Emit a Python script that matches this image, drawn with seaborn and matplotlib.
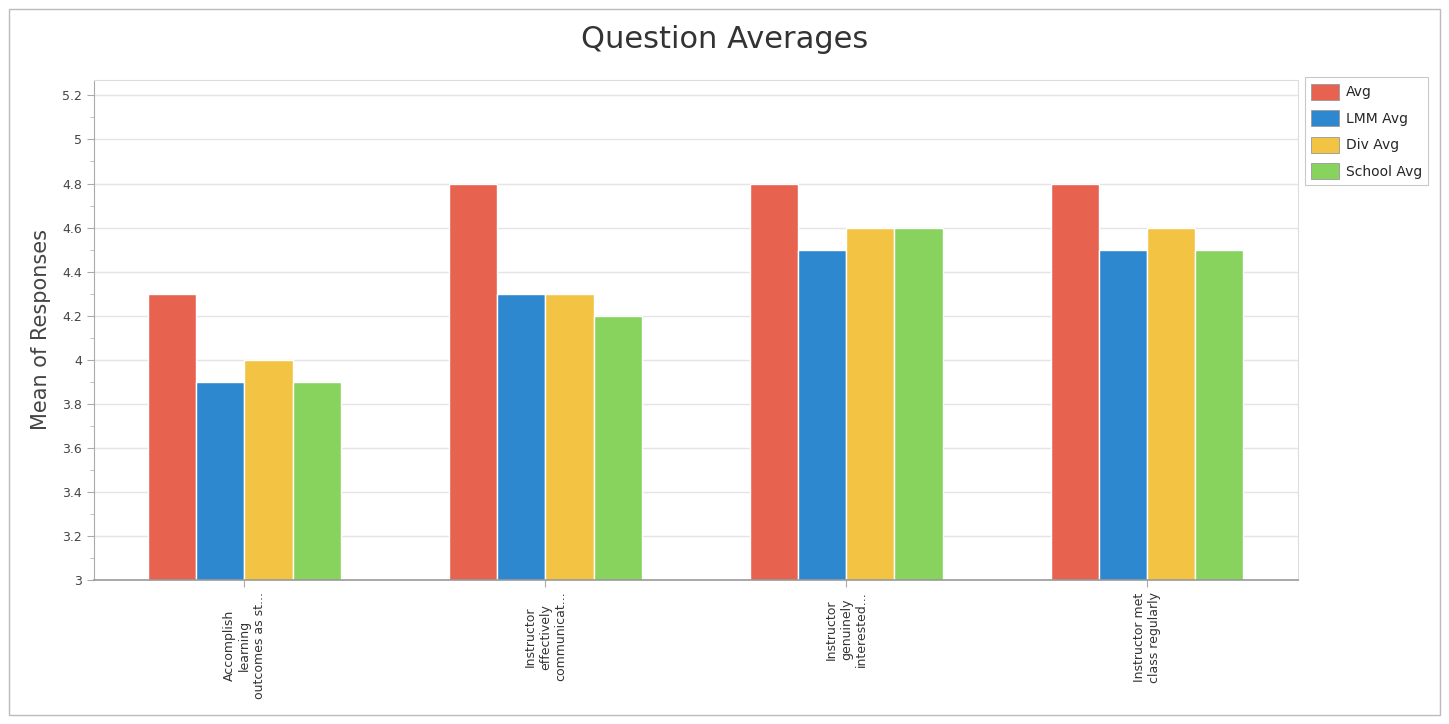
import pandas as pd
import matplotlib
matplotlib.use("Agg")
from matplotlib import pyplot as plt
from matplotlib.patches import Rectangle
from matplotlib.ticker import MultipleLocator
import seaborn as sns

questions = ["Accomplish\nlearning\noutcomes as st...",
             "Instructor\neffectively\ncommunicat...",
             "Instructor\ngenuinely\ninterested...",
             "Instructor met\nclass regularly"]
series = ["Avg", "LMM Avg", "Div Avg", "School Avg"]
avg = [4.3, 4.8, 4.8, 4.8]
lmm_avg = [3.9, 4.3, 4.5, 4.5]
div_avg = [4.0, 4.3, 4.6, 4.6]
school_avg = [3.9, 4.2, 4.6, 4.5]
colors = ["#E8634F", "#2E88CF", "#F3C443", "#88D25E"]

df = pd.DataFrame({"Question": questions * 4,
                   "Series": [s for s in series for _ in questions],
                   "Mean": avg + lmm_avg + div_avg + school_avg})

sns.set_style("white")
plt.rcParams["font.family"] = ["DejaVu Sans"]

fig = plt.figure(figsize=(14.49, 7.24), dpi=100)
ax = fig.add_axes([0.0649, 0.199, 0.8306, 0.6905])

sns.barplot(data=df, x="Question", y="Mean", hue="Series", palette=colors,
            saturation=1, width=0.64, ax=ax, edgecolor="white", linewidth=1,
            legend=False)

ax.set_ylim(3, 5.27)
ax.yaxis.set_minor_locator(MultipleLocator(0.1))
ax.set_yticks([3, 3.2, 3.4, 3.6, 3.8, 4, 4.2, 4.4, 4.6, 4.8, 5, 5.2])
ax.set_yticklabels(["3", "3.2", "3.4", "3.6", "3.8", "4", "4.2", "4.4",
                    "4.6", "4.8", "5", "5.2"])
ax.grid(axis="y", which="major", color="#E4E4E4", linewidth=1)
ax.set_axisbelow(True)
ax.tick_params(axis="y", which="major", length=5, color="#AAAAAA",
               labelsize=9, labelcolor="#444444", left=True)
ax.tick_params(axis="y", which="minor", length=3, color="#BBBBBB", left=True)
ax.tick_params(axis="x", length=5, color="#AAAAAA", bottom=True,
               labelsize=9, labelcolor="#333333")
for lbl in ax.get_xticklabels():
    lbl.set_rotation(90)
    lbl.set_multialignment("center")
    lbl.set_va("top")
    lbl.set_ha("center")

for side in ["top", "right"]:
    ax.spines[side].set_color("#DDDDDD")
ax.spines["left"].set_color("#AAAAAA")
ax.spines["bottom"].set_color("#999999")
ax.spines["bottom"].set_linewidth(1.2)

ax.set_xlabel("")
ax.set_ylabel("Mean of Responses", fontsize=15, color="#444444", labelpad=8)
fig.text(0.5, 0.945, "Question Averages", ha="center", va="center",
         fontsize=22, color="#333333")

handles = [Rectangle((0, 0), 1, 1, facecolor=c, edgecolor="#999999", linewidth=0.6)
           for c in colors]
leg = fig.legend(handles, series, loc="upper left", bbox_to_anchor=(0.9006, 0.893),
                 fontsize=10, frameon=True, fancybox=False, borderpad=0.45,
                 handlelength=2.0, handleheight=1.4, labelspacing=0.75,
                 handletextpad=0.5, borderaxespad=0)
leg.get_frame().set_edgecolor("#BBBBBB")
leg.get_frame().set_linewidth(0.8)

fig.patches.append(Rectangle((0.006, 0.012), 0.988, 0.976, transform=fig.transFigure,
                             fill=False, edgecolor="#BBBBBB", linewidth=1))

fig.savefig("out.png", dpi=100)
